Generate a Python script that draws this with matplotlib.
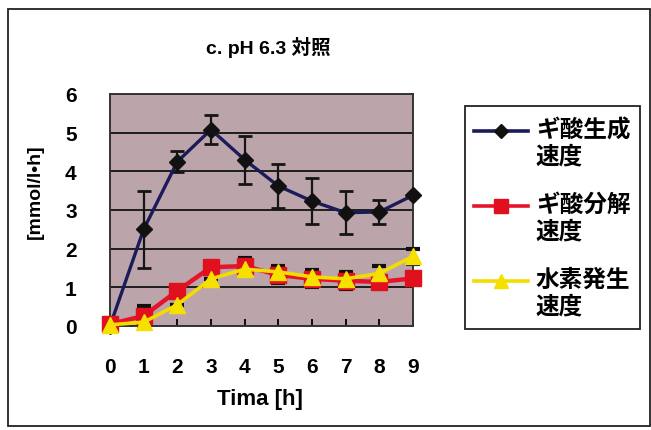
import matplotlib
matplotlib.use("Agg")
import matplotlib.pyplot as plt
from matplotlib.patches import Rectangle
from matplotlib.lines import Line2D

plt.rcParams['font.family'] = ['Liberation Sans', 'Noto Sans CJK JP', 'DejaVu Sans']
plt.rcParams['font.weight'] = 'bold'

hours = [0, 1, 2, 3, 4, 5, 6, 7, 8, 9]
formic_prod = [0.0, 2.5, 4.25, 5.08, 4.3, 3.62, 3.23, 2.93, 2.95, 3.38]
formic_prod_err = [0, 1.0, 0.28, 0.37, 0.62, 0.58, 0.59, 0.56, 0.32, 0.0]
formic_decomp = [0.05, 0.26, 0.91, 1.52, 1.55, 1.32, 1.22, 1.17, 1.14, 1.23]
formic_decomp_err = [0, 0.26, 0.1, 0.1, 0.2, 0.2, 0.22, 0.22, 0.1, 0.1]
h2_prod = [0.03, 0.1, 0.55, 1.22, 1.47, 1.4, 1.27, 1.22, 1.36, 1.8]
h2_prod_err = [0, 0, 0, 0, 0.15, 0.15, 0.15, 0.15, 0.2, 0.2]

labels = ["ギ酸生成\n速度", "ギ酸分解\n速度", "水素発生\n速度"]
title = "c. pH 6.3 対照"
xlabel = "Tima [h]"
ylabel = "[mmol/l\u2022h]"

W, H = 651, 431
fig = plt.figure(figsize=(W / 100, H / 100), dpi=100)
fig.patch.set_facecolor("white")

# outer chart frame
fig.add_artist(Rectangle((8 / W, 1 - 427 / H), 642 / W, 417 / H, transform=fig.transFigure,
                         fill=False, edgecolor="#222222", lw=1.3))

ax = fig.add_axes([110 / W, 1 - 327 / H, 303 / W, 232 / H])
ax.set_facecolor("#bba5ab")
ax.set_xlim(0, 9)
ax.set_ylim(0, 6)
ax.set_yticks(range(0, 7))
ax.set_xticks(hours)
ax.grid(axis="y", color="#1e1e1e", lw=1.4)
ax.set_axisbelow(True)
for s in ax.spines.values():
    s.set_color("#333333")
    s.set_linewidth(1.4)
ax.tick_params(axis="x", direction="in", length=5, width=1.3, pad=22, labelsize=15)
ax.tick_params(axis="y", length=0, pad=24, labelsize=15)

# error bars
ax.errorbar(hours, formic_prod, yerr=formic_prod_err, fmt="none", ecolor="#151515",
            elinewidth=1.6, capsize=5, capthick=2, zorder=3, clip_on=False)
ax.errorbar(hours, formic_decomp, yerr=formic_decomp_err, fmt="none", ecolor="#101010",
            elinewidth=1.6, capsize=5, capthick=3, zorder=3, clip_on=False)
ax.errorbar(hours, h2_prod, yerr=h2_prod_err, fmt="none", ecolor="#101010",
            elinewidth=1.6, capsize=5, capthick=3, zorder=3, clip_on=False)

ax.plot(hours, formic_prod, color="#1b1b5a", lw=2.4, marker="D", ms=8,
        mfc="#111111", mec="#111111", zorder=4, clip_on=False)
ax.plot(hours, formic_decomp, color="#e5142a", lw=3.2, marker="s", ms=11,
        mfc="#e0101e", mec="#e0101e", zorder=5, clip_on=False)
ax.plot(hours, h2_prod, color="#f3dc00", lw=2.6, marker="^", ms=11,
        mfc="#f6e000", mec="#f6e000", zorder=6, clip_on=False)

fig.text(268 / W, 1 - 48 / H, title, fontsize=14, fontweight="bold", ha="center", va="center")
fig.text(260 / W, 1 - 400 / H, xlabel, fontsize=16, fontweight="bold", ha="center", va="center")
fig.text(35 / W, 1 - 192 / H, ylabel, fontsize=14, fontweight="bold", ha="center",
         va="center", rotation=90)

# legend box drawn by hand
fig.add_artist(Rectangle((465 / W, 1 - 330 / H), 175 / W, 223 / H, transform=fig.transFigure,
                         fill=False, edgecolor="#222222", lw=1.3))
rows = [132, 207, 282]
handles = [("#1b1b5a", "D", "#111111", 7), ("#e5142a", "s", "#e0101e", 10), ("#f3dc00", "^", "#f6e000", 10)]
for (c, m, mc, ms), yy, lab in zip(handles, rows, labels):
    yf = 1 - yy / H
    fig.add_artist(Line2D([474 / W, 528 / W], [yf, yf], transform=fig.transFigure,
                          color=c, lw=2.6))
    fig.add_artist(Line2D([501 / W], [yf], transform=fig.transFigure, marker=m,
                          ms=ms, mfc=mc, mec=mc, lw=0))
    fig.text(536 / W, yf + 13 / H, lab, fontsize=17, fontweight="bold", va="top",
             ha="left", linespacing=1.2)

fig.savefig("out.png", dpi=100)
